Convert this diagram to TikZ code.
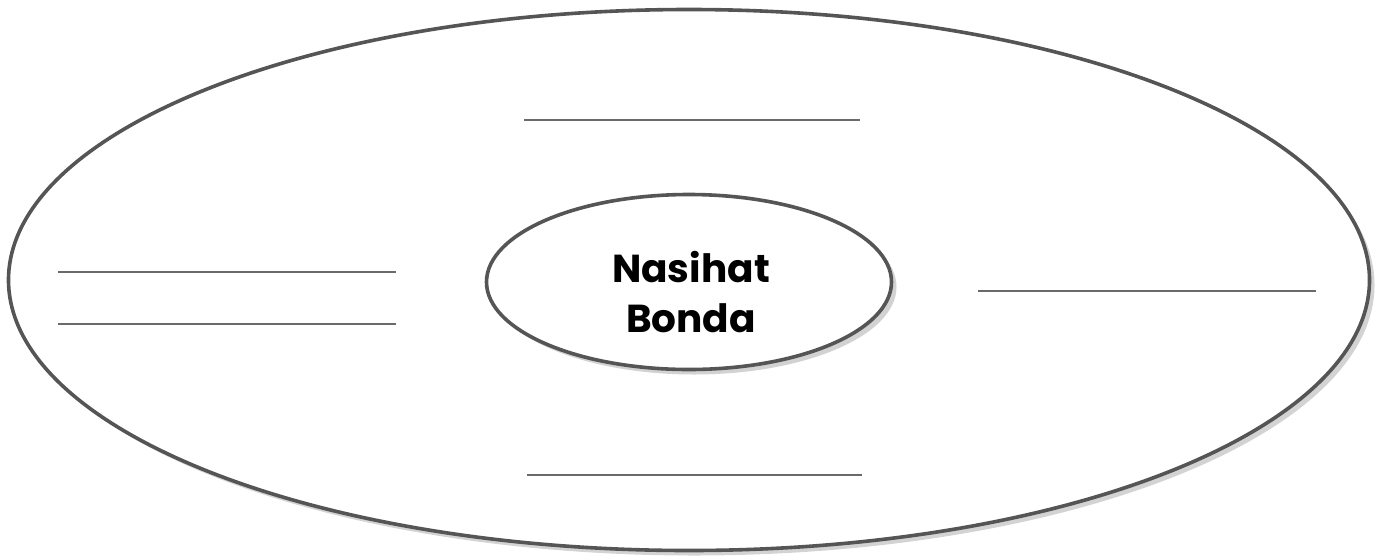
\documentclass[tikz,border=0pt]{standalone}
\usepackage{fontspec}
\setmainfont{Poppins}
\usetikzlibrary{shapes.geometric,shadows}
\definecolor{edge}{HTML}{555555}
\definecolor{rule}{HTML}{6A6A6A}
\tikzset{
  bubble/.style={ellipse, draw=edge, line width=3.6pt, fill=white, inner sep=0pt,
    drop shadow={shadow xshift=5pt, shadow yshift=-5pt, opacity=0.35, fill=gray}},
  writeline/.style={draw=rule, line width=1.5pt},
}
\begin{document}
\begin{tikzpicture}[x=1pt,y=-1pt]
\useasboundingbox (0,0) rectangle (1380,555);
\node[bubble, minimum width=1361pt, minimum height=541pt] (outer) at (689,280) {};
\node[bubble, minimum width=405pt, minimum height=175pt] (inner) at (689,282) {};
\node[align=center, inner sep=0pt, font=\fontsize{39}{50}\selectfont\bfseries]
  (label) at (691,292) {Nasihat\\Bonda};
\draw[writeline] (524,120) -- (860,120);
\draw[writeline] (58,272) -- (396,272);
\draw[writeline] (58,324) -- (396,324);
\draw[writeline] (978,291) -- (1316,291);
\draw[writeline] (527,475) -- (862,475);
\end{tikzpicture}
\end{document}
